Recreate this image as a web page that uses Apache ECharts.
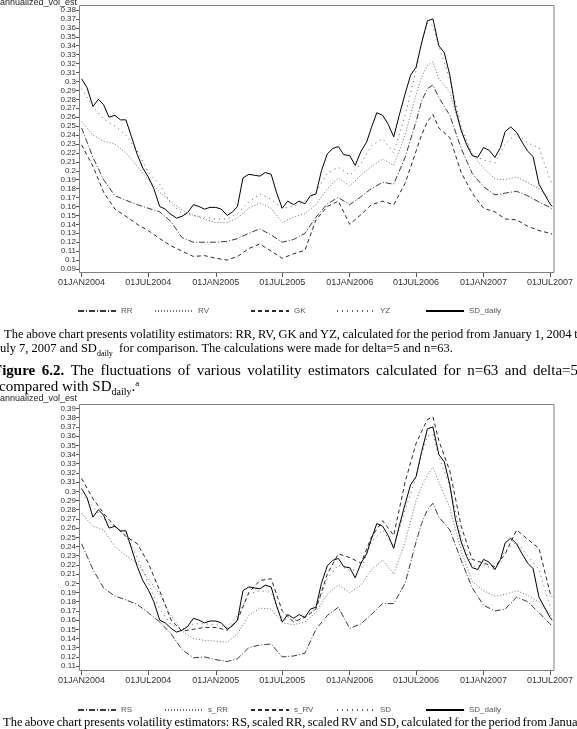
<!DOCTYPE html>
<html><head><meta charset="utf-8">
<script src="https://cdn.jsdelivr.net/npm/echarts@6/dist/echarts.min.js"></script>
<style>html,body{margin:0;padding:0;background:#fff;overflow:hidden}#c{width:577px;height:729px}</style>
</head><body><div id="c"></div>
<script>
// ---------- data ----------
const tickDates = ['2004-01-01','2004-07-01','2005-01-01','2005-07-01','2006-01-01','2006-07-01','2007-01-01','2007-07-01'];
const tickLabels = ['01JAN2004','01JUL2004','01JAN2005','01JUL2005','01JAN2006','01JUL2006','01JAN2007','01JUL2007'];

const halfDates = [
'2004-01-01','2004-01-16','2004-02-01','2004-02-16','2004-03-01','2004-03-16','2004-04-01','2004-04-16','2004-05-01','2004-05-16','2004-06-01','2004-06-16',
'2004-07-01','2004-07-16','2004-08-01','2004-08-16','2004-09-01','2004-09-16','2004-10-01','2004-10-16','2004-11-01','2004-11-16','2004-12-01','2004-12-16',
'2005-01-01','2005-01-16','2005-02-01','2005-02-16','2005-03-01','2005-03-16','2005-04-01','2005-04-16','2005-05-01','2005-05-16','2005-06-01','2005-06-16',
'2005-07-01','2005-07-16','2005-08-01','2005-08-16','2005-09-01','2005-09-16','2005-10-01','2005-10-16','2005-11-01','2005-11-16','2005-12-01','2005-12-16',
'2006-01-01','2006-01-16','2006-02-01','2006-02-16','2006-03-01','2006-03-16','2006-04-01','2006-04-16','2006-05-01','2006-05-16','2006-06-01','2006-06-16',
'2006-07-01','2006-07-16','2006-08-01','2006-08-16','2006-09-01','2006-09-16','2006-10-01','2006-10-16','2006-11-01','2006-11-16','2006-12-01','2006-12-16',
'2007-01-01','2007-01-16','2007-02-01','2007-02-16','2007-03-01','2007-03-16','2007-04-01','2007-04-16','2007-05-01','2007-05-16','2007-06-01','2007-06-16',
'2007-07-01','2007-07-07'];

const sdDaily = [
0.303,0.293,0.272,0.280,0.274,0.260,0.262,0.257,0.257,0.238,0.218,0.203,
0.193,0.180,0.160,0.157,0.151,0.147,0.149,0.153,0.162,0.160,0.157,0.159,
0.159,0.157,0.150,0.154,0.160,0.192,0.196,0.195,0.194,0.198,0.196,0.175,
0.158,0.166,0.162,0.166,0.163,0.172,0.174,0.200,0.219,0.225,0.227,0.218,
0.217,0.206,0.222,0.232,0.248,0.265,0.262,0.252,0.238,0.262,0.286,0.307,
0.316,0.343,0.368,0.370,0.340,0.332,0.307,0.270,0.245,0.229,0.217,0.215,
0.226,0.223,0.215,0.226,0.244,0.249,0.243,0.232,0.222,0.216,0.185,0.174,
0.163,0.160];

const monthDates = [
'2004-01-01','2004-02-01','2004-03-01','2004-04-01','2004-05-01','2004-06-01','2004-07-01','2004-08-01','2004-09-01','2004-10-01','2004-11-01','2004-12-01',
'2005-01-01','2005-02-01','2005-03-01','2005-04-01','2005-05-01','2005-06-01','2005-07-01','2005-08-01','2005-09-01','2005-10-01','2005-11-01','2005-12-01',
'2006-01-01','2006-02-01','2006-03-01','2006-04-01','2006-05-01','2006-06-01','2006-07-01','2006-07-16','2006-08-01','2006-08-16','2006-09-01','2006-10-01','2006-11-01','2006-12-01',
'2007-01-01','2007-02-01','2007-03-01','2007-04-01','2007-05-01','2007-06-01','2007-07-01','2007-07-07'];

// figure 6.1 estimators
const yz1 = [0.292,0.272,0.258,0.250,0.240,0.222,0.198,0.185,0.163,0.152,0.150,0.148,
0.146,0.146,0.152,0.165,0.174,0.168,0.158,0.160,0.166,0.176,0.197,0.204,
0.195,0.208,0.228,0.236,0.220,0.262,0.312,0.345,0.365,0.362,0.340,0.302,0.250,0.218,
0.212,0.209,0.230,0.242,0.231,0.226,0.190,0.186];
const rv1 = [0.255,0.240,0.233,0.230,0.220,0.205,0.190,0.176,0.165,0.156,0.150,0.146,
0.142,0.142,0.147,0.158,0.164,0.158,0.142,0.148,0.152,0.162,0.180,0.192,
0.183,0.195,0.205,0.213,0.206,0.240,0.285,0.305,0.318,0.322,0.303,0.288,0.245,0.218,
0.203,0.191,0.190,0.193,0.187,0.180,0.168,0.166];
const rr1 = [0.248,0.215,0.190,0.172,0.167,0.162,0.158,0.154,0.143,0.125,0.120,0.120,
0.120,0.121,0.124,0.130,0.135,0.128,0.120,0.123,0.130,0.148,0.163,0.170,
0.162,0.171,0.180,0.187,0.185,0.215,0.255,0.278,0.292,0.296,0.282,0.262,0.225,0.197,
0.182,0.173,0.175,0.177,0.172,0.165,0.159,0.157];
const gk1 = [0.229,0.205,0.176,0.157,0.149,0.140,0.133,0.124,0.116,0.110,0.104,0.105,
0.102,0.100,0.104,0.113,0.118,0.110,0.102,0.107,0.111,0.145,0.160,0.166,
0.140,0.151,0.162,0.166,0.162,0.186,0.222,0.240,0.255,0.263,0.248,0.237,0.198,0.175,
0.158,0.154,0.146,0.145,0.138,0.133,0.130,0.129];

// figure 6.2 estimators
const rs2 = [0.243,0.215,0.195,0.186,0.182,0.177,0.168,0.158,0.145,0.128,0.119,0.120,
0.117,0.115,0.118,0.130,0.133,0.134,0.120,0.121,0.124,0.150,0.165,0.174,
0.151,0.156,0.166,0.178,0.178,0.200,0.245,0.265,0.280,0.287,0.272,0.258,0.225,0.195,
0.176,0.170,0.172,0.185,0.180,0.168,0.156,0.153];
const sRR2 = [0.276,0.262,0.258,0.240,0.230,0.222,0.205,0.188,0.165,0.148,0.140,0.138,
0.137,0.136,0.145,0.165,0.173,0.172,0.157,0.155,0.158,0.168,0.188,0.198,
0.190,0.198,0.215,0.225,0.210,0.245,0.290,0.305,0.318,0.326,0.310,0.282,0.235,0.202,
0.192,0.186,0.188,0.192,0.187,0.180,0.166,0.163];
const sRV2 = [0.314,0.292,0.276,0.262,0.251,0.243,0.222,0.192,0.160,0.148,0.150,0.152,
0.152,0.149,0.160,0.190,0.203,0.205,0.170,0.158,0.163,0.172,0.210,0.232,
0.228,0.222,0.250,0.268,0.252,0.310,0.352,0.365,0.378,0.381,0.355,0.322,0.262,0.226,
0.222,0.218,0.232,0.258,0.248,0.238,0.190,0.185];
const sd2 = [0.298,0.283,0.270,0.262,0.252,0.228,0.200,0.172,0.155,0.150,0.156,0.156,
0.155,0.152,0.165,0.188,0.192,0.190,0.162,0.160,0.163,0.172,0.205,0.220,
0.214,0.215,0.245,0.258,0.240,0.280,0.315,0.340,0.360,0.362,0.338,0.305,0.250,0.218,
0.220,0.215,0.235,0.245,0.230,0.215,0.175,0.172];

// ---------- chart ----------
const chart = echarts.init(document.getElementById('c'), null, {renderer:'canvas', width:577, height:729});
const T = s => +echarts.time.parse(s);
const tickTs = tickDates.map(T);
const pairs = (d, v) => d.map((x, i) => [T(x), v[i]]);

const STY = {
  dashdot: {color:'#3a3a3a', type:[6,2,1,2], width:1},
  dotted:  {color:'#707070', type:[1,2], width:1},
  dashed:  {color:'#2a2a2a', type:[4,3], width:1},
  sparse:  {color:'#606060', type:[1,4], width:1},
  solid:   {color:'#000', type:'solid', width:1}
};
const line = (name, d, v, sty, idx) => ({
  name, type:'line', xAxisIndex:idx, yAxisIndex:idx, data:pairs(d, v),
  symbol:'none', showSymbol:false, silent:true, animation:false,
  lineStyle:Object.assign({}, sty), itemStyle:{color:sty.color}
});

const LBL = 'Liberation Sans';
const SERIF = 'Liberation Serif';
const xAx = (idx, off) => ({
  gridIndex:idx, type:'value', min:T('2003-12-25'), max:T('2007-07-12'), offset:off,
  axisLine:{show:false}, splitLine:{show:false},
  axisTick:{show:true, length:4, lineStyle:{color:'#555'}, customValues:tickTs},
  axisLabel:{customValues:tickTs, fontSize:9, color:'#333', fontFamily:LBL, margin:5,
    formatter:v => { const i = tickTs.findIndex(t => Math.abs(t - v) < 864e5); return i >= 0 ? tickLabels[i] : ''; }}
});
const yAx = (idx, mn, mx) => ({
  gridIndex:idx, type:'value', min:mn, max:mx, interval:0.01,
  axisLine:{show:true, lineStyle:{color:'#808080'}}, splitLine:{show:false},
  axisTick:{show:true, length:3, lineStyle:{color:'#555'}},
  axisLabel:{fontSize:8, color:'#333', fontFamily:LBL, margin:3}
});
const legendRow = (names, lefts, top) => names.map((n, i) => ({
  data:[n], left:lefts[i], top, itemWidth:38, itemHeight:8, padding:0, selectedMode:false,
  itemStyle:{opacity:0},
  textStyle:{fontSize:8, color:'#555', fontFamily:LBL}
}));

// justified text helper (layout only)
const mctx = document.createElement('canvas').getContext('2d');
function justify(words, x0, x1, yc, size) {
  const fonts = words.map(w => (w.b ? 'bold ' : '') + size + 'px "' + SERIF + '"');
  const widths = words.map((w, i) => { mctx.font = fonts[i]; return mctx.measureText(w.t).width; });
  const tot = widths.reduce((a, b) => a + b, 0);
  const gap = (x1 - x0 - tot) / (words.length - 1);
  let x = x0; const out = [];
  words.forEach((w, i) => {
    out.push({type:'text', x, y:yc, silent:true, style:{text:w.t, font:fonts[i], fill:'#000', verticalAlign:'middle'}});
    x += widths[i] + gap;
  });
  return out;
}
const W = (s, b) => s.split(' ').map(t => ({t, b}));

const graphics = [
  {type:'rect', silent:true, shape:{x:79.5, y:5.5, width:474.5, height:267}, style:{fill:'none', stroke:'#808080', lineWidth:1}},
  {type:'rect', silent:true, shape:{x:79.5, y:404.5, width:474.5, height:266}, style:{fill:'none', stroke:'#808080', lineWidth:1}},
  {type:'text', x:0, y:3, silent:true, style:{text:'annualized_vol_est', fontSize:9, fontFamily:LBL, fill:'#222', verticalAlign:'middle'}},
  {type:'text', x:0, y:399, silent:true, style:{text:'annualized_vol_est', fontSize:9, fontFamily:LBL, fill:'#222', verticalAlign:'middle'}},
  ...justify(W('The above chart presents volatility estimators: RR, RV, GK and YZ, calculated for the period from January 1, 2004 to'), 4, 584, 335, 12.5),
  {type:'text', x:0, y:349, silent:true, style:{
    text:'{n|uly 7, 2007 and SD}{s|daily}{n|  for comparison. The calculations were made for delta=5 and n=63.}',
    verticalAlign:'middle', rich:{n:{fontSize:12.5, fontFamily:SERIF, fill:'#000', verticalAlign:'bottom'}, s:{fontSize:8, fontFamily:SERIF, fill:'#000', verticalAlign:'bottom', padding:[0,0,-2,0]}}}},
  ...justify([...W('Figure 6.2.', true), ...W('The fluctuations of various volatility estimators calculated for n=63 and delta=5')], -7, 578, 371, 15),
  {type:'text', x:-1, y:387, silent:true, style:{
    text:'{n|compared with SD}{s|daily}{n|.}{p|a}',
    verticalAlign:'middle', rich:{n:{fontSize:15, fontFamily:SERIF, fill:'#000', verticalAlign:'bottom'}, s:{fontSize:10, fontFamily:SERIF, fill:'#000', verticalAlign:'bottom', padding:[0,0,-3,0]}, p:{fontSize:9, fontFamily:SERIF, fill:'#000', verticalAlign:'top'}}}},
  ...justify(W('The above chart presents volatility estimators: RS, scaled RR, scaled RV and SD, calculated for the period from January'), 3, 588, 723, 12.5)
];

chart.setOption({
  animation:false,
  backgroundColor:'#fff',
  grid:[
    {left:79, top:10, width:475, height:259},
    {left:79, top:408.5, width:475, height:257.6}
  ],
  xAxis:[xAx(0, 4), xAx(1, 5)],
  yAxis:[yAx(0, 0.09, 0.38), yAx(1, 0.11, 0.39)],
  legend:[
    ...legendRow(['RR','RV','GK','YZ','SD_daily'], [77,154,250,336,425], 307),
    ...legendRow(['RS','s_RR','s_RV','SD','SD_daily'], [77,164,250,336,425], 706)
  ],
  graphic:graphics,
  series:[
    line('RR', monthDates, rr1, STY.dashdot, 0),
    line('RV', monthDates, rv1, STY.dotted, 0),
    line('GK', monthDates, gk1, STY.dashed, 0),
    line('YZ', monthDates, yz1, STY.sparse, 0),
    line('SD_daily', halfDates, sdDaily, STY.solid, 0),
    line('RS', monthDates, rs2, STY.dashdot, 1),
    line('s_RR', monthDates, sRR2, STY.dotted, 1),
    line('s_RV', monthDates, sRV2, STY.dashed, 1),
    line('SD', monthDates, sd2, STY.sparse, 1),
    line('SD_daily', halfDates, sdDaily, STY.solid, 1)
  ]
});
</script></body></html>
